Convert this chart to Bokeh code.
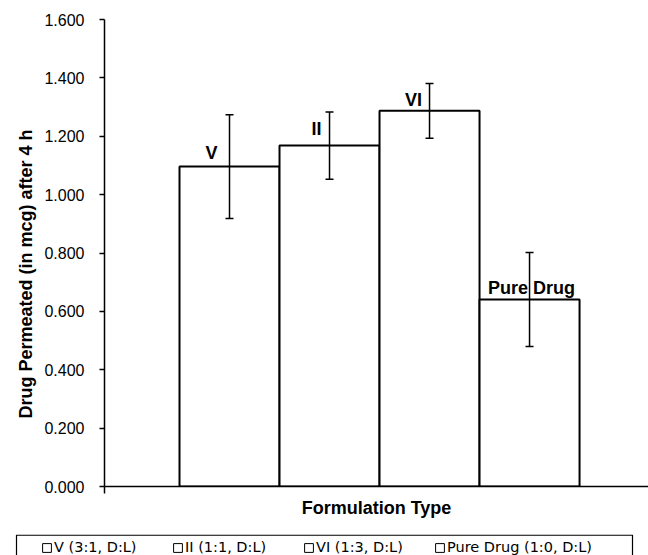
from bokeh.plotting import figure
from bokeh.layouts import column
from bokeh.models import (ColumnDataSource, Whisker, TeeHead, Legend, LegendItem,
                          NumeralTickFormatter, FixedTicker, Range1d, Title)
from bokeh.core.properties import value
from bokeh.embed import file_html
from bokeh.resources import INLINE

# Data: drug permeated (mcg) after 4 h for each formulation, with error bars
formulations = ["V", "II", "VI", "Pure Drug"]
legend_labels = ["V (3:1, D:L)", "II (1:1, D:L)", "VI (1:3, D:L)", "Pure Drug (1:0, D:L)"]
permeated = [1.096, 1.168, 1.287, 0.641]
std_dev = [0.178, 0.115, 0.094, 0.161]
y_ticks = [0.0, 0.2, 0.4, 0.6, 0.8, 1.0, 1.2, 1.4, 1.6]

# Styling of the bar name labels (pixel offsets from the top of each bar)
label_dx = [-18, -13, -16, 2]
label_dy = [14, 17, 11, 11]

FONT = "Liberation Sans"
W = 648

# One category cluster holding the four series, with a 150% gap width
n = len(formulations)
gap_width = 1.5
bar_w = 1.0 / (n + gap_width)
xs = [0.5 + (i - (n - 1) / 2) * bar_w for i in range(n)]

src = ColumnDataSource(dict(
    x=xs,
    top=permeated,
    upper=[v + e for v, e in zip(permeated, std_dev)],
    lower=[v - e for v, e in zip(permeated, std_dev)],
    name=formulations,
    dx=label_dx,
    dy=[-d for d in label_dy],
))

p = figure(width=W, height=534, output_backend="svg", toolbar_location=None,
           x_range=Range1d(0, 0.989), y_range=Range1d(0, 1.6),
           min_border_left=104, min_border_right=0, min_border_top=19, min_border_bottom=48)
p.frame_align = False
p.outline_line_color = None
p.xgrid.visible = False
p.ygrid.visible = False
p.background_fill_color = "white"
p.border_fill_color = "white"

# Bars, one per formulation
p.vbar(x="x", top="top", width=bar_w, bottom=0, source=src,
       fill_color="white", line_color="black", line_width=2)

# Error bars
tee = dict(size=8, line_width=1.5, line_color="black")
whisk = Whisker(source=src, base="x", upper="upper", lower="lower",
                line_width=1.5, line_color="black",
                upper_head=TeeHead(**tee), lower_head=TeeHead(**tee), level="overlay")
p.add_layout(whisk)

# Bar name labels
p.text(x="x", y="top", text="name", source=src, x_offset="dx", y_offset="dy",
       text_align="center", text_baseline="alphabetic",
       text_font=value(FONT), text_font_style="bold", text_font_size="18px",
       text_color="black")

# Y axis
ya = p.yaxis[0]
ya.ticker = FixedTicker(ticks=y_ticks)
ya.formatter = NumeralTickFormatter(format="0.000")
ya.major_label_text_font = FONT
ya.major_label_text_font_size = "16px"
ya.major_label_text_color = "black"
ya.major_label_standoff = 15
ya.major_tick_out = 5
ya.major_tick_in = 0
ya.minor_tick_line_color = None
ya.axis_line_width = 1.5
ya.axis_line_color = "black"
ya.major_tick_line_color = "black"
ya.major_tick_line_width = 1.5

# Y title, starting a little above the bottom of the axis
p.add_layout(Title(text="Drug Permeated (in mcg) after 4 h", align="left", offset=68,
                   standoff=12, text_font=FONT, text_font_style="bold",
                   text_font_size="18px", text_color="black"), "left")

# X axis: only the category boundary tick and the title
xa = p.xaxis[0]
xa.ticker = FixedTicker(ticks=[0])
xa.major_label_overrides = {0: ""}
xa.major_label_text_font_size = "1px"
xa.major_label_standoff = 0
xa.major_tick_out = 7
xa.major_tick_in = 0
xa.minor_tick_line_color = None
xa.axis_line_width = 1.5
xa.axis_line_color = "black"
xa.major_tick_line_color = "black"
xa.major_tick_line_width = 1.5
xa.axis_label = "Formulation Type"
xa.axis_label_text_font = FONT
xa.axis_label_text_font_style = "bold"
xa.axis_label_text_font_size = "18px"
xa.axis_label_text_color = "black"
xa.axis_label_standoff = 4

# Legend strip below the chart
lg = figure(width=W, height=21, output_backend="svg", toolbar_location=None,
            x_range=Range1d(0, W), y_range=Range1d(0, 21),
            x_axis_type=None, y_axis_type=None,
            min_border_left=0, min_border_right=0, min_border_top=0, min_border_bottom=0)
lg.frame_align = False
lg.outline_line_color = None
lg.xgrid.visible = False
lg.ygrid.visible = False

# Legend frame (its lower edge runs past the bottom of the page)
lg.quad(left=16, right=632, top=20.4, bottom=-10, fill_color="white",
        line_color="black", line_width=1.2)

nan = float("nan")
swatches = [lg.vbar(x=[nan], top=[nan], width=1, fill_color="white",
                    line_color="black", line_width=1) for _ in legend_labels]
legend = Legend(items=[LegendItem(label=lbl, renderers=[r]) for lbl, r in zip(legend_labels, swatches)],
                orientation="horizontal", location=(41, 0),
                padding=0, spacing=9, margin=0,
                glyph_width=11, glyph_height=11, label_standoff=2,
                label_width=109, label_height=14,
                border_line_alpha=0, background_fill_alpha=0,
                label_text_font="DejaVu Sans", label_text_font_size="14.5px",
                label_text_color="black")
lg.add_layout(legend)

layout = column(p, lg, spacing=0)
open("out.html", "w").write(file_html(layout, INLINE))
